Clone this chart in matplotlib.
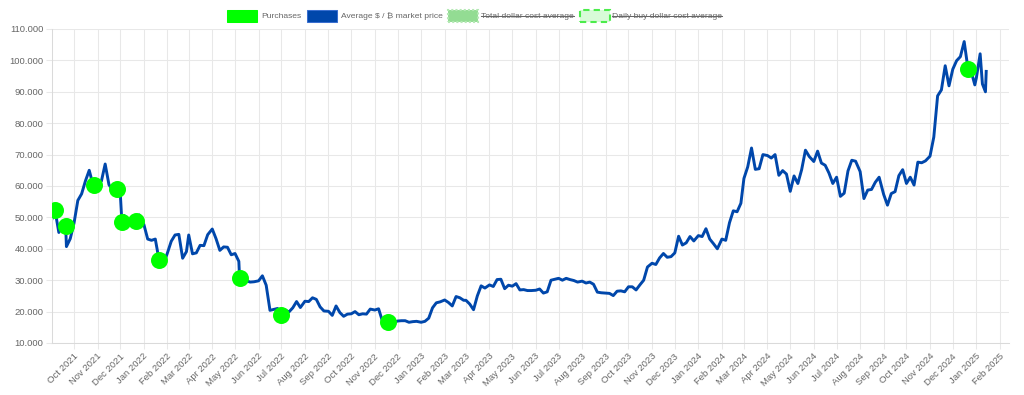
import matplotlib.pyplot as plt
import matplotlib.dates as mdates
import matplotlib.transforms as mtransforms
from matplotlib.patches import Rectangle
from matplotlib.lines import Line2D
from matplotlib.ticker import FuncFormatter, MultipleLocator
import numpy as np
import pandas as pd

plt.rcParams['font.family'] = ['Liberation Sans', 'DejaVu Sans']

# market price in k$, sampled on days 1, 6, 11, 16, 21, 26 of each month (Sep 2021 - Dec 2024)
sample_days = [1, 6, 11, 16, 21, 26]
prices_k = [
    48.8, 52.7, 45.2, 47.8, 40.7, 43.2,   # 2021-09
    48.2, 55.4, 57.5, 61.6, 65.0, 60.4,   # 2021-10
    61.3, 61.5, 67.0, 60.4, 58.6, 53.6,   # 2021-11
    57.2, 50.6, 49.4, 47.6, 49.0, 50.8,   # 2021-12
    47.7, 43.1, 42.7, 43.1, 36.5, 34.5,   # 2022-01
    38.7, 42.4, 44.4, 44.6, 37.0, 39.1,   # 2022-02
    44.4, 38.4, 38.7, 41.1, 41.0, 44.5,   # 2022-03
    46.3, 43.2, 39.5, 40.6, 40.5, 38.1,   # 2022-04
    38.5, 36.0, 29.0, 29.8, 29.4, 29.5,   # 2022-05
    29.8, 31.4, 28.4, 20.4, 20.7, 21.0,   # 2022-06
    19.3, 20.5, 19.9, 21.2, 23.2, 21.3,   # 2022-07
    23.3, 23.2, 24.4, 23.9, 21.5, 20.2,   # 2022-08
    20.1, 18.8, 21.8, 19.7, 18.5, 19.2,   # 2022-09
    19.3, 20.0, 19.0, 19.3, 19.2, 20.8,   # 2022-10
    20.5, 20.9, 17.0, 16.6, 15.8, 16.5,   # 2022-11
    17.0, 17.1, 17.1, 16.6, 16.8, 16.9,   # 2022-12
    16.6, 16.9, 17.9, 21.2, 22.8, 23.1,   # 2023-01
    23.7, 22.9, 21.8, 24.8, 24.4, 23.6,   # 2023-02
    23.6, 22.4, 20.6, 25.0, 28.2, 27.5,   # 2023-03
    28.5, 28.0, 30.2, 30.3, 27.3, 28.4,   # 2023-04
    28.1, 28.9, 26.9, 27.0, 26.7, 26.7,   # 2023-05
    26.8, 27.2, 25.9, 26.3, 30.0, 30.3,   # 2023-06
    30.6, 30.0, 30.6, 30.2, 29.9, 29.4,   # 2023-07
    29.7, 29.1, 29.4, 28.7, 26.2, 26.0,   # 2023-08
    25.9, 25.8, 25.1, 26.5, 26.6, 26.3,   # 2023-09
    27.9, 27.9, 26.9, 28.5, 30.0, 34.2,   # 2023-10
    35.4, 35.0, 37.1, 38.5, 37.3, 37.5,   # 2023-11
    38.7, 44.0, 41.2, 41.9, 43.9, 42.5,   # 2023-12
    44.2, 43.9, 46.4, 43.1, 41.6, 40.0,   # 2024-01
    43.1, 42.7, 48.3, 52.1, 51.8, 54.5,   # 2024-02
    62.4, 66.1, 72.1, 65.3, 65.5, 70.0,   # 2024-03
    69.7, 68.9, 70.0, 63.4, 64.9, 63.8,   # 2024-04
    58.3, 63.2, 60.8, 65.2, 71.4, 69.4,   # 2024-05
    67.8, 71.1, 67.3, 66.6, 64.1, 60.8,   # 2024-06
    62.8, 56.7, 57.7, 64.8, 68.2, 67.9,   # 2024-07
    64.6, 56.0, 58.7, 58.9, 61.2, 62.8,   # 2024-08
    57.3, 53.9, 57.6, 58.2, 63.3, 65.2,   # 2024-09
    60.8, 62.8, 60.3, 67.6, 67.4, 68.0,   # 2024-10
    69.5, 75.6, 88.7, 90.6, 98.3, 91.9,   # 2024-11
    97.2, 99.9, 101.2, 106.0, 97.2, 95.8, # 2024-12
]
tail_dates = ["2024-12-30", "2025-01-01", "2025-01-06", "2025-01-09", "2025-01-13", "2025-01-14"]
tail_prices_k = [92.2, 94.4, 102.1, 92.5, 90.0, 96.5]

buy_dates = ["2021-09-06", "2021-09-20", "2021-10-27", "2021-11-26", "2021-12-03", "2021-12-22",
             "2022-01-21", "2022-05-07", "2022-06-30", "2022-11-18", "2024-12-21"]
buy_prices_k = [52.2, 47.3, 60.3, 58.9, 48.6, 48.9, 36.4, 30.6, 18.9, 16.6, 97.3]

legend_labels = ["Purchases", "Average $ / \u20bf market price",
                 "Total dollar cost average", "Daily buy dollar cost average"]

months = pd.date_range("2021-09-01", "2024-12-01", freq="MS")
sample_dates = [m + pd.Timedelta(days=d - 1) for m in months for d in sample_days]
samples = pd.Series(np.array(prices_k) * 1000, index=pd.DatetimeIndex(sample_dates))
tail = pd.Series(np.array(tail_prices_k) * 1000, index=pd.to_datetime(tail_dates))
buys = pd.Series(np.array(buy_prices_k) * 1000, index=pd.to_datetime(buy_dates))
market = buys.combine_first(pd.concat([samples, tail]))

W, H = 1024, 395
fig = plt.figure(figsize=(W / 100, H / 100), dpi=100)
ax = fig.add_axes([52 / W, 1 - 343 / H, 957 / W, 314 / H])

ax.plot(market.index, market.values, color='#0047ab', lw=2.1, solid_joinstyle='round', zorder=2)
ax.scatter(buys.index, buys.values, s=150, color='#00ff00', linewidths=0, zorder=3)

ax.set_xlim(pd.Timestamp("2021-09-02"), pd.Timestamp("2025-02-13"))
ax.set_ylim(10000, 110000)
ax.yaxis.set_major_locator(MultipleLocator(10000))
ax.yaxis.set_major_formatter(FuncFormatter(lambda v, p: f"{v:,.0f}".replace(",", ".")))
ax.xaxis.set_major_locator(mdates.MonthLocator())
ax.xaxis.set_major_formatter(mdates.DateFormatter("%b %Y"))

ax.grid(color='#e8e8e8', lw=0.75)
ax.set_axisbelow(True)
for s in ['top', 'right']:
    ax.spines[s].set_visible(False)
for s in ['left', 'bottom']:
    ax.spines[s].set_color('#dadada')
    ax.spines[s].set_linewidth(0.75)
ax.tick_params(length=4.3, width=0.75, color='#e8e8e8', labelsize=6.8, labelcolor='#666666')
ax.tick_params(axis='y', pad=2)
ax.tick_params(axis='x', pad=4.3)

shift = mtransforms.ScaledTranslation(2.5 / 100, 0, fig.dpi_scale_trans)
for lab in ax.get_xticklabels():
    lab.set_rotation(45)
    lab.set_ha('right')
    lab.set_va('center')
    lab.set_rotation_mode('anchor')
    lab.set_transform(lab.get_transform() + shift)

# legend drawn by hand (chart.js style, hidden datasets struck through)
box_x = [227, 307, 448, 580]
text_x = [261, 341, 481, 612]
box_style = [
    dict(facecolor='#00ff00', edgecolor='#00ff00', lw=0.75),
    dict(facecolor='#0047ab', edgecolor='#3a6fd0', lw=0.75),
    dict(facecolor='#93dc93', edgecolor='#b4e8b4', lw=1.5, ls=(0, (1, 1))),
    dict(facecolor='#d8fbd8', edgecolor='#4cec4c', lw=1.5, ls=(0, (3, 2))),
]
for i, (bx, tx, st, lab) in enumerate(zip(box_x, text_x, box_style, legend_labels)):
    fig.add_artist(Rectangle((bx / W, 1 - 21.5 / H), 30 / W, 11 / H,
                             transform=fig.transFigure, **st))
    t = fig.text(tx / W, 1 - 16 / H, lab, fontsize=6.1, color='#666666',
                 ha='left', va='center')
    if i >= 2:
        fig.canvas.draw()
        bb = t.get_window_extent()
        fig.add_artist(Line2D([bb.x0 / W, bb.x1 / W], [1 - 16 / H, 1 - 16 / H],
                              transform=fig.transFigure, color='#666666', lw=0.75))

fig.savefig("out.png", dpi=100)
